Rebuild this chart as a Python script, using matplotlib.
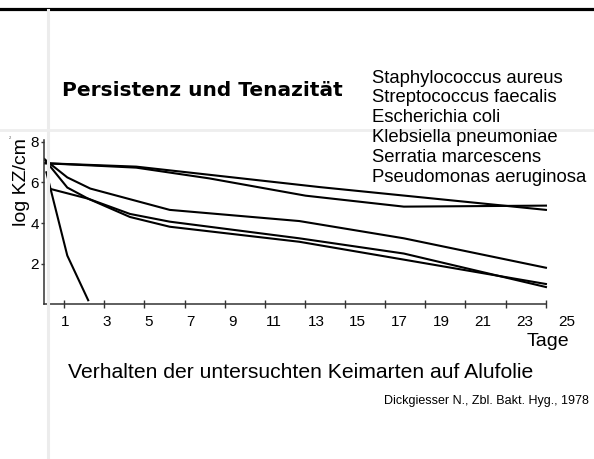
import matplotlib.pyplot as plt
import numpy as np
from matplotlib.lines import Line2D

W, H = 594, 459
FONT = "Liberation Sans"

species = [
    "Staphylococcus aureus",
    "Streptococcus faecalis",
    "Escherichia coli",
    "Klebsiella pneumoniae",
    "Serratia marcescens",
    "Pseudomonas aeruginosa",
]

# log KZ/cm² over days
curve1_days = [0, 4.4, 13.2, 24]
curve1_vals = [6.95, 6.78, 5.77, 4.65]
curve2_days = [0, 4.4, 7.9, 12.5, 17.2, 24]
curve2_vals = [6.95, 6.73, 6.2, 5.35, 4.81, 4.86]
curve3_days = [0, 1.1, 2.2, 6.0, 12.2, 17.2, 24]
curve3_vals = [7.15, 6.25, 5.7, 4.65, 4.1, 3.25, 1.8]
curve4_days = [0, 1.1, 2.1, 4.1, 6.0, 12.2, 17.2, 24]
curve4_vals = [7.15, 5.75, 5.2, 4.3, 3.82, 3.08, 2.2, 1.0]
curve5_days = [0.3, 2.1, 4.1, 6.0, 12.2, 17.2, 24]
curve5_vals = [5.68, 5.2, 4.45, 4.07, 3.25, 2.5, 0.85]
curve6_days = [0.1, 1.1, 2.1]
curve6_vals = [6.5, 2.4, 0.2]

label_days = [1, 3, 5, 7, 9, 11, 13, 15, 17, 19, 21, 23, 25]
tick_marks = [0.95, 2.87, 4.79, 6.71, 8.63, 10.55, 12.47, 14.39, 16.31, 18.23, 20.15, 22.08, 24.0]
y_ticks = [2, 4, 6, 8]

plt.rcParams["font.family"] = [FONT, "DejaVu Sans"]

fig = plt.figure(figsize=(W / 100, H / 100), dpi=100)


def fx(px):
    return px / W


def fy(py):
    return 1 - py / H


# slide decorations
fig.add_artist(Line2D([0, 1], [fy(8.5), fy(8.5)], color="black", lw=2.3))
fig.add_artist(Line2D([fx(48), fx(48)], [fy(10), 0], color="#ececec", lw=2.2))
fig.add_artist(Line2D([0, 1], [fy(130), fy(130)], color="#eeeeee", lw=2.0))

ax = fig.add_axes([fx(44.3), fy(304.3), 533 / W, 166.5 / H])
ax.patch.set_alpha(0)
for d, v in [(curve1_days, curve1_vals), (curve2_days, curve2_vals),
             (curve3_days, curve3_vals), (curve4_days, curve4_vals),
             (curve5_days, curve5_vals), (curve6_days, curve6_vals)]:
    ax.plot(d, v, color="black", lw=1.5, solid_joinstyle="miter")

ax.set_xlim(0, 25.5)
ax.set_ylim(0, 8.2)
for s in ["top", "right"]:
    ax.spines[s].set_visible(False)
ax.spines["bottom"].set_bounds(0, 24)
ax.spines["left"].set_bounds(0, 8.1)
for s in ["bottom", "left"]:
    ax.spines[s].set_color("#333333")
    ax.spines[s].set_linewidth(1.1)

ax.set_xticks(tick_marks)
ax.set_xticklabels([])
ax.set_xticks(label_days, minor=True)
ax.set_xticklabels([str(d) for d in label_days], minor=True)
ax.tick_params(axis="x", which="major", direction="inout", length=6, width=1, color="#333333")
ax.tick_params(axis="x", which="minor", length=0, pad=8, labelsize=11)
ax.set_yticks(y_ticks)
ax.set_yticklabels([str(v) for v in y_ticks])
ax.tick_params(axis="y", direction="out", length=2.5, width=1, pad=1.5, labelsize=11, color="#333333")

fig.text(fx(22), fy(182), "log KZ/cm", rotation=90, fontsize=14, ha="center", va="center")
fig.text(fx(10), fy(138), "2", fontsize=3, ha="center", va="center", color="#555555")
fig.text(fx(548), fy(342), "Tage", fontsize=14, ha="center", va="center")

fig.text(fx(62), fy(91), "Persistenz und Tenazität", fontsize=14.5, fontweight="bold",
         family="DejaVu Sans", ha="left", va="center")
for i, name in enumerate(species):
    fig.text(fx(372), fy(78 + 20 * i), name, fontsize=13.3, ha="left", va="center")

fig.text(fx(68), fy(372), "Verhalten der untersuchten Keimarten auf Alufolie",
         fontsize=15.2, ha="left", va="center")
fig.text(fx(589), fy(401), "Dickgiesser N., Zbl. Bakt. Hyg., 1978",
         fontsize=9, ha="right", va="center")

fig.savefig("out.png", dpi=100)
